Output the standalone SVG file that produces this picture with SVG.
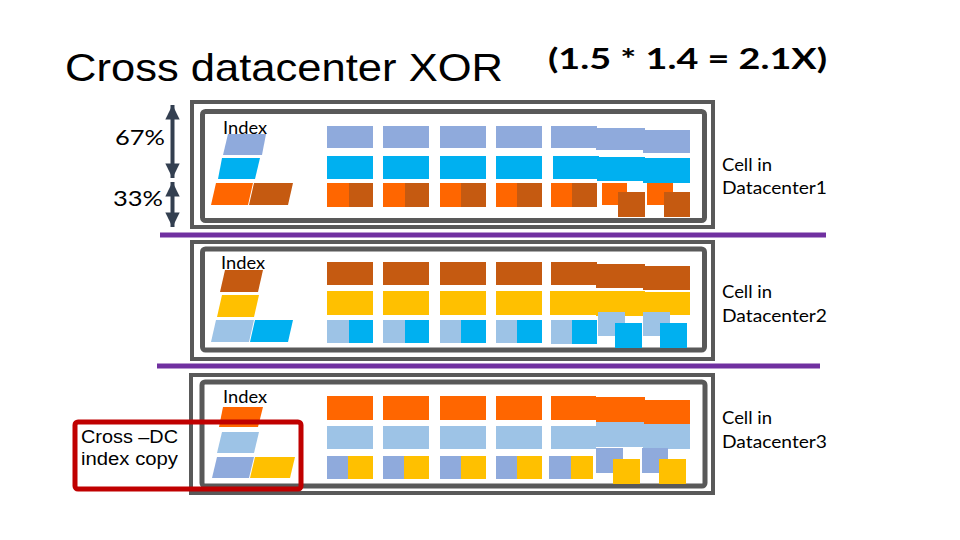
<svg xmlns="http://www.w3.org/2000/svg" width="960" height="540" viewBox="0 0 960 540">
<style>
text{font-family:"Liberation Sans",Arial,sans-serif;fill:#000}
.cal{font-family:Lato,"Noto Sans",sans-serif}
.outer{fill:none;stroke:#595959;stroke-width:4}
.inner{fill:#fff;stroke:#595959;stroke-width:5}
.sb{fill:#8FAADC}.cy{fill:#00B0F0}.or{fill:#FF6600}.br{fill:#C55A11}.ye{fill:#FFC000}.pb{fill:#9DC3E6}
.purple{stroke:#7030A0;stroke-width:5}
.lbl{font-size:18px}
.idx{font-size:17px}
</style>
<defs>
<marker id="ah" viewBox="0 0 10 10" refX="10" refY="5" markerWidth="4" markerHeight="3.6" orient="auto-start-reverse" markerUnits="strokeWidth">
<path d="M0,0 L10,5 L0,10 z" fill="#333F50"/>
</marker>
</defs>
<rect width="960" height="540" fill="#fff"/>

<g id="title">
<text x="65" y="81" font-size="39" textLength="438" lengthAdjust="spacingAndGlyphs">Cross datacenter XOR</text>
<text class="cal" x="548" y="69" font-size="29" font-weight="bold" textLength="279" lengthAdjust="spacingAndGlyphs">(1.5 * 1.4 = 2.1X)</text>
</g>

<g id="ratio">
<text class="cal" x="115" y="145" font-size="22" textLength="50" lengthAdjust="spacingAndGlyphs">67%</text>
<text class="cal" x="113" y="206" font-size="22" textLength="50" lengthAdjust="spacingAndGlyphs">33%</text>
</g>

<g id="connectors">
<line x1="172.5" y1="105" x2="172.5" y2="178" stroke="#333F50" stroke-width="4" marker-start="url(#ah)" marker-end="url(#ah)"/>
<line x1="172.5" y1="182" x2="172.5" y2="227" stroke="#333F50" stroke-width="4" marker-start="url(#ah)" marker-end="url(#ah)"/>
<line class="purple" x1="160" y1="235" x2="826" y2="235"/>
<line class="purple" x1="157" y1="366" x2="820" y2="366"/>
</g>

<g id="cell1">
<rect class="outer" x="192" y="102" width="521" height="125"/>
<rect class="inner" x="202.5" y="111.5" width="502" height="109" rx="3"/>
<text class="idx cal" x="223" y="134" textLength="44" lengthAdjust="spacingAndGlyphs">Index</text>
<polygon class="sb" points="228,134 266,134 262,155 223,155"/>
<polygon class="cy" points="222,158 260,158 255,179 218,179"/>
<polygon class="or" points="216,183 253,183 248,205 211,205"/>
<polygon class="br" points="254,183 293,183 288,205 249,205"/>
<g>
<rect class="sb" x="327" y="126" width="46" height="22"/><rect class="sb" x="383" y="126" width="46" height="22"/><rect class="sb" x="440" y="126" width="46" height="22"/><rect class="sb" x="496" y="126" width="46" height="22"/>
<rect class="sb" x="551" y="126" width="46" height="22"/><rect class="sb" x="596" y="128" width="49" height="22"/><rect class="sb" x="643" y="130" width="47" height="23"/>
<rect class="cy" x="327" y="156" width="46" height="23"/><rect class="cy" x="383" y="156" width="46" height="23"/><rect class="cy" x="440" y="156" width="46" height="23"/><rect class="cy" x="496" y="156" width="46" height="23"/>
<rect class="cy" x="553" y="156" width="46" height="23"/><rect class="cy" x="597" y="157" width="48" height="24"/><rect class="cy" x="643" y="158" width="47" height="25"/>
<rect class="or" x="327" y="183" width="22" height="24"/><rect class="br" x="349" y="183" width="24" height="24"/>
<rect class="or" x="383" y="183" width="22" height="24"/><rect class="br" x="405" y="183" width="24" height="24"/>
<rect class="or" x="440" y="183" width="21" height="24"/><rect class="br" x="461" y="183" width="25" height="24"/>
<rect class="or" x="496" y="183" width="21" height="24"/><rect class="br" x="517" y="183" width="25" height="24"/>
<rect class="or" x="551" y="183" width="21" height="24"/><rect class="br" x="572" y="183" width="25" height="24"/>
<rect class="or" x="602" y="183" width="25" height="22"/><rect class="br" x="618" y="192" width="27" height="25"/>
<rect class="or" x="647" y="183" width="26" height="22"/><rect class="br" x="664" y="192" width="26" height="25"/>
</g>
<text class="lbl cal" x="722" y="171" textLength="50" lengthAdjust="spacingAndGlyphs">Cell in</text>
<text class="lbl cal" x="722" y="194" textLength="105" lengthAdjust="spacingAndGlyphs">Datacenter1</text>
</g>

<g id="cell2">
<rect class="outer" x="192" y="242" width="521" height="117"/>
<rect class="inner" x="202.5" y="249" width="502" height="101" rx="3"/>
<text class="idx cal" x="221" y="269" textLength="44" lengthAdjust="spacingAndGlyphs">Index</text>
<polygon class="br" points="225,270 263,270 258,292 220,292"/>
<polygon class="ye" points="222,295 259,295 254,317 217,317"/>
<polygon class="pb" points="216,320 254,320 249,342 211,342"/>
<polygon class="cy" points="255,320 293,320 288,342 250,342"/>
<g>
<rect class="br" x="327" y="262" width="46" height="23"/><rect class="br" x="383" y="262" width="46" height="23"/><rect class="br" x="440" y="262" width="46" height="23"/><rect class="br" x="496" y="262" width="46" height="23"/>
<rect class="br" x="551" y="262" width="46" height="23"/><rect class="br" x="596" y="264" width="49" height="24"/><rect class="br" x="643" y="266" width="47" height="24"/>
<rect class="ye" x="327" y="291" width="46" height="24"/><rect class="ye" x="383" y="291" width="46" height="24"/><rect class="ye" x="440" y="291" width="46" height="24"/><rect class="ye" x="496" y="291" width="46" height="24"/>
<rect class="ye" x="550" y="291" width="47" height="24"/><rect class="ye" x="596" y="291" width="49" height="25"/><rect class="ye" x="643" y="292" width="47" height="23"/>
<rect class="pb" x="327" y="320" width="22" height="23"/><rect class="cy" x="349" y="320" width="24" height="23"/>
<rect class="pb" x="383" y="320" width="22" height="23"/><rect class="cy" x="405" y="320" width="24" height="23"/>
<rect class="pb" x="440" y="320" width="21" height="23"/><rect class="cy" x="461" y="320" width="25" height="23"/>
<rect class="pb" x="496" y="320" width="21" height="23"/><rect class="cy" x="517" y="320" width="25" height="23"/>
<rect class="pb" x="551" y="320" width="21" height="24"/><rect class="cy" x="572" y="320" width="25" height="24"/>
<rect class="pb" x="598" y="312" width="27" height="24"/><rect class="cy" x="615" y="323" width="27" height="25"/>
<rect class="pb" x="643" y="312" width="27" height="24"/><rect class="cy" x="660" y="323" width="27" height="25"/>
</g>
<text class="lbl cal" x="722" y="298" textLength="50" lengthAdjust="spacingAndGlyphs">Cell in</text>
<text class="lbl cal" x="722" y="322" textLength="105" lengthAdjust="spacingAndGlyphs">Datacenter2</text>
</g>

<g id="cell3">
<rect class="outer" x="191" y="375" width="522" height="118"/>
<rect class="inner" x="202" y="382" width="503" height="104" rx="3"/>
<text class="idx cal" x="223" y="403" textLength="44" lengthAdjust="spacingAndGlyphs">Index</text>
<polygon class="or" points="223,407 263,407 258,427 219,427"/>
<polygon class="pb" points="222,432 259,432 254,453 217,453"/>
<polygon class="sb" points="217,457 254,457 249,478 212,478"/>
<polygon class="ye" points="255,457 295,457 290,478 250,478"/>
<g>
<rect class="or" x="327" y="396" width="46" height="24"/><rect class="or" x="383" y="396" width="46" height="24"/><rect class="or" x="440" y="396" width="46" height="24"/><rect class="or" x="496" y="396" width="46" height="24"/>
<rect class="or" x="551" y="396" width="45" height="24"/><rect class="or" x="596" y="397" width="49" height="25"/><rect class="or" x="643" y="400" width="47" height="24"/>
<rect class="pb" x="327" y="426" width="46" height="23"/><rect class="pb" x="383" y="426" width="46" height="23"/><rect class="pb" x="440" y="426" width="46" height="23"/><rect class="pb" x="496" y="426" width="46" height="23"/>
<rect class="pb" x="551" y="426" width="45" height="23"/><rect class="pb" x="596" y="422" width="48" height="25"/><rect class="pb" x="643" y="424" width="47" height="25"/>
<rect class="sb" x="327" y="456" width="21" height="23"/><rect class="ye" x="348" y="456" width="25" height="23"/>
<rect class="sb" x="383" y="456" width="21" height="23"/><rect class="ye" x="404" y="456" width="25" height="23"/>
<rect class="sb" x="440" y="456" width="21" height="23"/><rect class="ye" x="461" y="456" width="25" height="23"/>
<rect class="sb" x="496" y="456" width="21" height="23"/><rect class="ye" x="517" y="456" width="25" height="23"/>
<rect class="sb" x="549" y="456" width="22" height="23"/><rect class="ye" x="571" y="456" width="22" height="23"/>
<rect class="sb" x="596" y="448" width="27" height="25"/><rect class="ye" x="613" y="459" width="27" height="25"/>
<rect class="sb" x="642" y="448" width="26" height="25"/><rect class="ye" x="659" y="459" width="27" height="25"/>
</g>
<text class="lbl cal" x="722" y="424" textLength="50" lengthAdjust="spacingAndGlyphs">Cell in</text>
<text class="lbl cal" x="722" y="448" textLength="105" lengthAdjust="spacingAndGlyphs">Datacenter3</text>
</g>

<g id="crossdc">
<rect x="75" y="422" width="226" height="67" rx="3" fill="none" stroke="#C00000" stroke-width="5"/>
<text x="81" y="443" font-size="18" textLength="97" lengthAdjust="spacingAndGlyphs">Cross –DC</text>
<text x="81" y="465" font-size="18" textLength="97" lengthAdjust="spacingAndGlyphs">index copy</text>
</g>
</svg>
